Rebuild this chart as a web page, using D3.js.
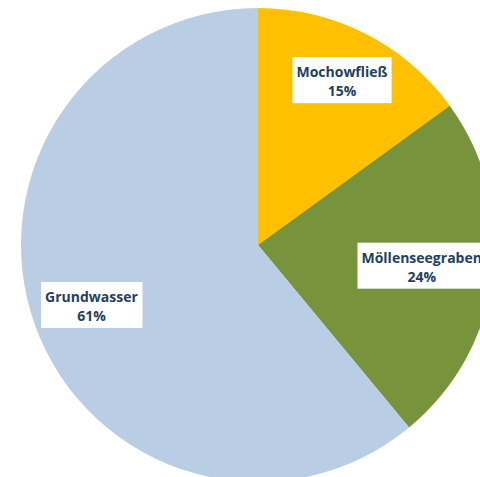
<!DOCTYPE html>
<html>
<head>
<meta charset="utf-8">
<script src="https://cdn.jsdelivr.net/npm/d3@7"></script>
<style>
  html, body { margin: 0; padding: 0; background: #fff; overflow: hidden; }
</style>
</head>
<body>
<div id="PieChart"></div>
<script>
var categories = ["Mochowfließ", "Möllenseegraben", "Grundwasser"];
var shares = [15, 24, 61];
var colors = ["#FFC000", "#77933C", "#B9CDE5"];

var sliceData = categories.map(function (c, i) {
  return { key: c, value: shares[i], color: colors[i] };
});

function DrawPieChart() {
  var width = 480;
  var height = 477;
  var radius = 237;
  var cx = 258, cy = 245;
  // label distance from centre, per slice (best-fit placement)
  var labelRadius = [185, 165, 177];

  var svg = d3.select('#PieChart')
    .append('svg')
    .attr('width', width)
    .attr('height', height)
    .append('g')
    .attr('transform', 'translate(' + cx + ',' + cy + ')');

  var arc = d3.arc()
    .innerRadius(0)
    .outerRadius(radius);

  var pie = d3.pie()
    .value(function (d) { return d.value; })
    .sort(null);

  var dataReady = pie(sliceData);

  svg.selectAll('path.slice')
    .data(dataReady)
    .enter()
    .append('path')
    .attr('class', 'slice')
    .attr('d', arc)
    .attr('fill', function (d) { return d.data.color; });

  var labels = svg.selectAll('g.label')
    .data(dataReady)
    .enter()
    .append('g')
    .attr('class', 'label')
    .attr('transform', function (d, i) {
      var r = labelRadius[i];
      var c = d3.arc().innerRadius(r).outerRadius(r).centroid(d);
      return 'translate(' + c + ')';
    });

  labels.each(function (d) {
    var g = d3.select(this);
    var t = g.append('text')
      .attr('text-anchor', 'middle')
      .style('font-family', '"Open Sans", sans-serif')
      .style('font-weight', 'bold')
      .style('font-size', '14px')
      .attr('fill', '#243F60');
    t.append('tspan').attr('x', 0).attr('y', -3).text(d.data.key);
    t.append('tspan').attr('x', 0).attr('y', 16).text(d.data.value + '%');
    var bb = t.node().getBBox();
    g.insert('rect', 'text')
      .attr('x', bb.x - 4)
      .attr('y', -23)
      .attr('width', bb.width + 8)
      .attr('height', 46)
      .attr('fill', '#fff');
  });
}

DrawPieChart();
</script>
</body>
</html>
